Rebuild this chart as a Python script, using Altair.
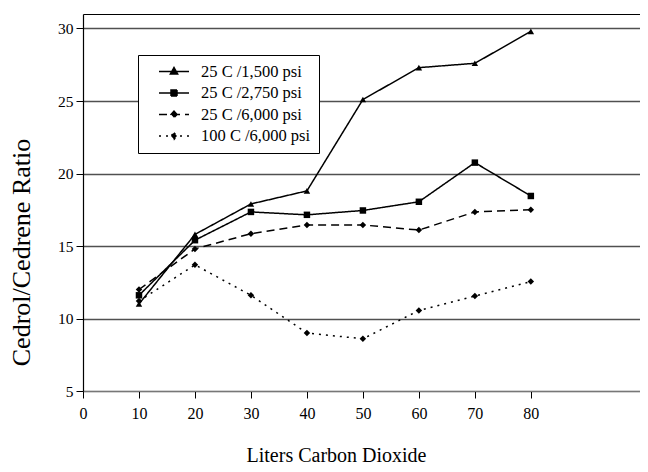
import altair as alt
import pandas as pd

liters = [10, 20, 30, 40, 50, 60, 70, 80]
series_names = ["25 C /1,500 psi", "25 C /2,750 psi", "25 C /6,000 psi", "100 C /6,000 psi"]
s_1500 = [11.0, 15.8, 17.9, 18.8, 25.1, 27.3, 27.6, 29.8]
s_2750 = [11.6, 15.4, 17.35, 17.15, 17.45, 18.05, 20.75, 18.45]
s_6000 = [12.0, 14.8, 15.85, 16.45, 16.45, 16.1, 17.35, 17.5]
s_100c = [11.2, 13.7, 11.6, 9.0, 8.6, 10.55, 11.55, 12.55]
y_ticks = [5, 10, 15, 20, 25, 30]
x_ticks = [0, 10, 20, 30, 40, 50, 60, 70, 80]

rows = []
for name, vals in zip(series_names, [s_1500, s_2750, s_6000, s_100c]):
    for x, v in zip(liters, vals):
        rows.append({"liters": x, "ratio": v, "series": name})
df = pd.DataFrame(rows)

FONT = "Liberation Serif"
W, H = 557, 377

x_scale = alt.Scale(domain=[0, 99.5], nice=False, zero=False)
y_scale = alt.Scale(domain=[5, 31], nice=False, zero=False)
dash_range = [[1, 0], [1, 0], [8, 5], [2, 5]]
shape_range = ["triangle-up", "square", "diamond", "diamond"]
legend_paths = [
    "M-1,0L1,0M0,-0.26L0.24,0.16L-0.24,0.16Z",
    "M-1,0L1,0M-0.2,-0.2L0.2,-0.2L0.2,0.2L-0.2,0.2Z",
    "M-1,0L1,0M0,-0.22L0.2,0L0,0.22L-0.2,0Z",
    "M-1,0L1,0M0,-0.22L0.2,0L0,0.22L-0.2,0Z",
]

y_axis = alt.Axis(
    values=y_ticks, grid=True, gridColor="#505050", gridWidth=1.3,
    domainColor="black", domainWidth=1.2, tickColor="black", tickSize=7,
    labelFont=FONT, labelFontSize=15.5, labelColor="black", labelPadding=3,
    title="Cedrol/Cedrene Ratio", titleFont=FONT, titleFontSize=26,
    titleFontWeight="normal", titleColor="black", titleX=-62, titleY=238,
    titleBaseline="middle", titleAlign="center",
)
x_axis = alt.Axis(
    values=x_ticks, grid=False, domainColor="#777", domainWidth=1.2,
    tickColor="black", tickSize=7, labelFont=FONT, labelFontSize=16,
    labelColor="black", labelPadding=7, labelFlush=False,
    title="Liters Carbon Dioxide", titleFont=FONT, titleFontSize=20,
    titleFontWeight="normal", titleColor="black", titleX=253, titleY=64,
    titleBaseline="middle", titleAlign="center",
)

base = alt.Chart(df)

lines = base.mark_line(color="black", strokeWidth=1.5).encode(
    x=alt.X("liters:Q", scale=x_scale, axis=x_axis),
    y=alt.Y("ratio:Q", scale=y_scale, axis=y_axis),
    detail="series:N",
    strokeDash=alt.StrokeDash("series:N", scale=alt.Scale(domain=series_names, range=dash_range), legend=None),
)

points = base.mark_point(filled=True, color="black", size=42, opacity=1).encode(
    x=alt.X("liters:Q", scale=x_scale, axis=None),
    y=alt.Y("ratio:Q", scale=y_scale, axis=y_axis),
    shape=alt.Shape("series:N", scale=alt.Scale(domain=series_names, range=shape_range), legend=None),
)

legend_props = dict(
    orient="none", legendX=55, legendY=41, padding=8, strokeColor="black",
    fillColor="white", labelFont=FONT, labelFontSize=16.5, labelColor="black",
    rowPadding=4.5, symbolOffset=12, labelOffset=11, title=None, clipHeight=17,
    symbolSize=900, symbolStrokeWidth=1.5,
)

legend_layer = base.transform_filter("false").mark_point(
    filled=False, color="black", fill="black", stroke="black", strokeWidth=1.5, opacity=1
).encode(
    x=alt.X("liters:Q", scale=x_scale, axis=alt.Axis(orient="top", labels=False, ticks=False,
                                                      domainColor="black", domainWidth=1.2,
                                                      grid=False, title=None)),
    y=alt.Y("ratio:Q", scale=y_scale, axis=y_axis),
    shape=alt.Shape("series:N", scale=alt.Scale(domain=series_names, range=legend_paths),
                    legend=alt.Legend(**legend_props)),
    strokeDash=alt.StrokeDash("series:N", scale=alt.Scale(domain=series_names, range=dash_range),
                              legend=alt.Legend(**legend_props)),
)

chart = alt.layer(lines, points, legend_layer).resolve_scale(
    shape="independent", strokeDash="independent"
).resolve_axis(x="independent").properties(
    width=W, height=H,
    autosize=alt.AutoSizeParams(type="none"),
    padding={"left": 75, "top": 6, "right": 0, "bottom": 75},
).configure_view(strokeWidth=0)

chart.save("out.html", embed_options={"renderer": "svg", "actions": False})
